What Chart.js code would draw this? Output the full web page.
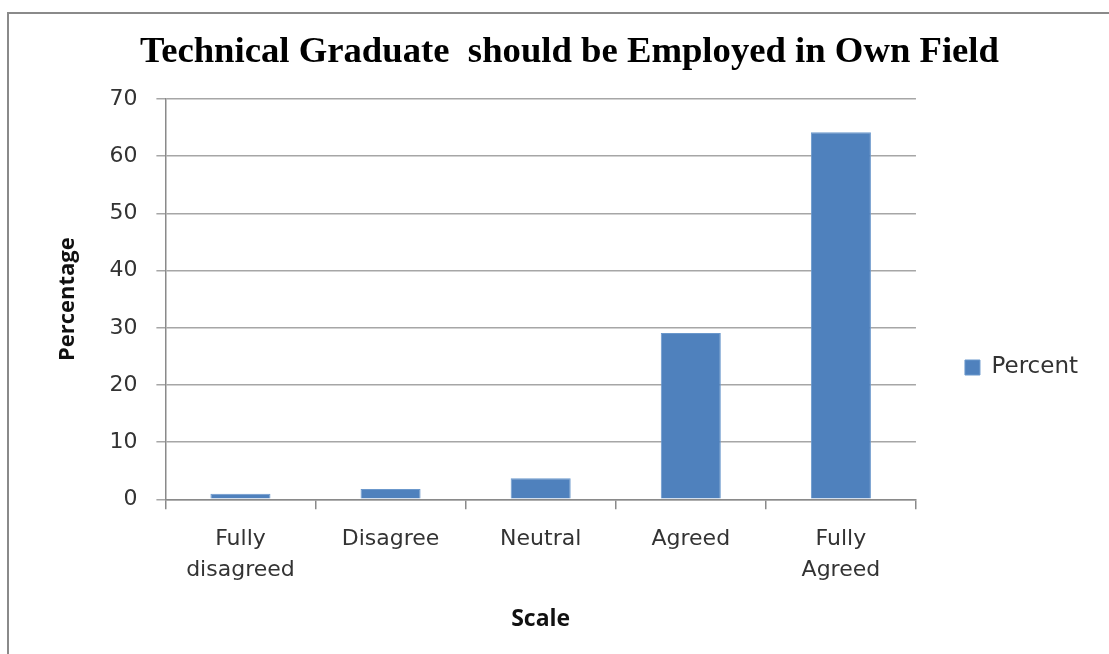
<!DOCTYPE html>
<html>
<head>
<meta charset="utf-8">
<script src="https://cdn.jsdelivr.net/npm/chart.js@4/dist/chart.umd.min.js"></script>
<style>
  html, body { margin: 0; padding: 0; background: #fff; }
  #wrap { width: 1109px; height: 654px; }
</style>
</head>
<body>
<div id="wrap"><canvas id="chart" width="1109" height="654"></canvas></div>
<script>
// data
var categories = [["Fully", "disagreed"], "Disagree", "Neutral", "Agreed", ["Fully", "Agreed"]];
var percentValues = [1, 1.8, 3.7, 29.1, 64.2];
var seriesName = "Percent";
var yTicks = [0, 10, 20, 30, 40, 50, 60, 70];

// white background + the frame lines on the top and left edges
var framePlugin = {
  id: "frame",
  beforeDraw: function (chart) {
    var ctx = chart.ctx;
    ctx.save();
    ctx.fillStyle = "#ffffff";
    ctx.fillRect(0, 0, chart.width, chart.height);
    ctx.strokeStyle = "#8a8a8a";
    ctx.lineWidth = 2;
    ctx.beginPath();
    ctx.moveTo(8, chart.height);
    ctx.lineTo(8, 13);
    ctx.lineTo(chart.width, 13);
    ctx.stroke();
    ctx.restore();
  }
};

var sans = "'DejaVu Sans', sans-serif";
var boldSans = "'Open Sans', 'DejaVu Sans', sans-serif";

var myChart = new Chart(document.getElementById("chart"), {
  type: "bar",
  data: {
    labels: categories,
    datasets: [
      {
        label: seriesName,
        data: percentValues,
        backgroundColor: "#4f81bd",
        borderColor: "#6b98cc",
        borderWidth: 1,
        barPercentage: 0.8,
        categoryPercentage: 0.5
      }
    ]
  },
  options: {
    responsive: false,
    animation: false,
    events: [],
    layout: { padding: { left: 51, right: 21, top: 0, bottom: 21 } },
    plugins: {
      title: {
        display: true,
        text: "Technical Graduate  should be Employed in Own Field",
        color: "#000",
        font: { family: "'Liberation Serif', 'Times New Roman', serif", size: 36.7, weight: "bold" },
        padding: { top: 31, bottom: 24 }
      },
      legend: {
        display: true,
        position: "right",
        title: {
          // empty title only pushes the single item down
          display: true,
          text: " ",
          font: { size: 10 },
          padding: { top: 0, bottom: 90 }
        },
        labels: {
          boxWidth: 15,
          boxHeight: 15,
          padding: 49,
          color: "#333",
          font: { family: sans, size: 23 }
        }
      },
      tooltip: { enabled: false }
    },
    scales: {
      x: {
        grid: {
          display: true,
          drawOnChartArea: false,
          drawTicks: true,
          tickLength: 10,
          color: "#8a8a8a",
          lineWidth: 1.5
        },
        border: { color: "#8a8a8a", width: 1.5 },
        ticks: {
          color: "#333",
          padding: 14,
          maxRotation: 0,
          autoSkip: false,
          font: { family: sans, size: 22, lineHeight: 1.41 }
        },
        title: {
          display: true,
          text: "Scale",
          color: "#111",
          font: { family: boldSans, size: 23, weight: "bold" },
          padding: { top: 6, bottom: 0 }
        }
      },
      y: {
        min: 0,
        max: 70,
        afterBuildTicks: function (axis) {
          axis.ticks = yTicks.map(function (v) { return { value: v }; });
        },
        grid: {
          color: "#a6a6a6",
          lineWidth: 1.5,
          drawTicks: true,
          tickLength: 9
        },
        border: { color: "#8a8a8a", width: 1.5 },
        ticks: {
          color: "#333",
          padding: 19,
          font: { family: sans, size: 22 }
        },
        title: {
          display: true,
          text: "Percentage",
          color: "#111",
          font: { family: boldSans, size: 22, weight: "bold" },
          padding: { top: 4, bottom: 9 }
        }
      }
    }
  },
  plugins: [framePlugin]
});
</script>
</body>
</html>
